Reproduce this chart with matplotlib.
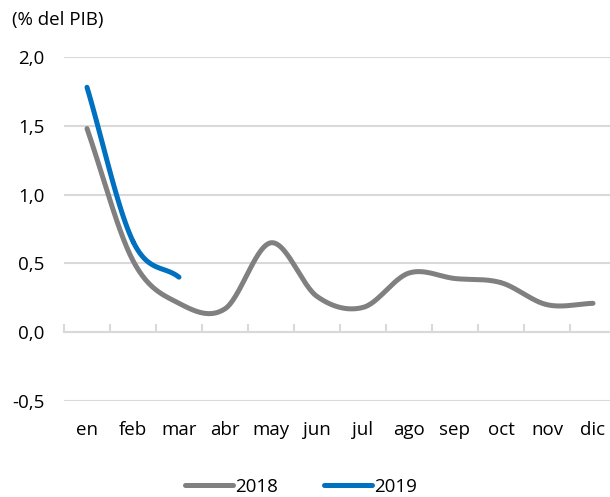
import numpy as np
import matplotlib
matplotlib.use("Agg")
import matplotlib.pyplot as plt

# -------------------------
# Data
# -------------------------
months = ["en", "feb", "mar", "abr", "may", "jun", "jul", "ago", "sep", "oct", "nov", "dic"]
y2018 = [1.48, 0.52, 0.21, 0.17, 0.65, 0.26, 0.18, 0.43, 0.39, 0.36, 0.20, 0.21]
y2019 = [1.78, 0.66, 0.40]
yticks = [-0.5, 0.0, 0.5, 1.0, 1.5, 2.0]

GRAY = "#808080"
BLUE = "#0070C0"
GRID = "#D9D9D9"
FS = 13.5

plt.rcParams["font.family"] = ["Open Sans", "DejaVu Sans"]


def smooth(vals, n=30):
    # Catmull-Rom style smoothing, like Excel's "smoothed line"
    y = np.asarray(vals, float)
    x = np.arange(len(y), dtype=float)
    px = np.concatenate([[2 * x[0] - x[1]], x, [2 * x[-1] - x[-2]]])
    py = np.concatenate([[2 * y[0] - y[1]], y, [2 * y[-1] - y[-2]]])
    xs, ys = [], []
    t = np.linspace(0, 1, n)
    for i in range(1, len(px) - 2):
        for arr, out in ((px, xs), (py, ys)):
            p0, p1, p2, p3 = arr[i - 1:i + 3]
            out.append(0.5 * ((2 * p1) + (-p0 + p2) * t
                              + (2 * p0 - 5 * p1 + 4 * p2 - p3) * t ** 2
                              + (-p0 + 3 * p1 - 3 * p2 + p3) * t ** 3))
    return np.concatenate(xs), np.concatenate(ys)


fig = plt.figure(figsize=(6.10, 4.97), dpi=100)
ax = fig.add_axes([64 / 610, 96 / 497, 552 / 610, 344 / 497])

x18, s18 = smooth(y2018)
x19, s19 = smooth(y2019)
l18, = ax.plot(x18, s18, color=GRAY, lw=3.6, solid_capstyle="round", label="2018")
l19, = ax.plot(x19, s19, color=BLUE, lw=3.6, solid_capstyle="round", label="2019")

ax.set_xlim(-0.5, len(months) - 0.5)
ax.set_ylim(-0.5, 2.0)
ax.set_yticks(yticks)
ax.set_yticklabels([f"{v:.1f}".replace(".", ",") for v in yticks], fontsize=FS)
ax.yaxis.grid(True, color=GRID, lw=1.5)
ax.set_axisbelow(True)
ax.tick_params(axis="y", length=0, pad=14)

for s in ["left", "right", "top"]:
    ax.spines[s].set_visible(False)
ax.spines["bottom"].set_position(("data", 0))
ax.spines["bottom"].set_color(GRID)
ax.spines["bottom"].set_linewidth(1.5)

ax.set_xticks([])
ax.set_xticks(np.arange(-0.5, len(months), 1), minor=True)
ax.tick_params(axis="x", which="minor", direction="in", length=6, width=1.5, color=GRID)

for i, m in enumerate(months):
    ax.text(i, -0.71, m, ha="center", va="center", fontsize=FS, clip_on=False)

fig.text(12 / 610, 1 - 20 / 497, "(% del PIB)", fontsize=FS, va="center", ha="left")

fig.legend(handles=[l18, l19], loc="center", bbox_to_anchor=(301 / 610, 1 - 487 / 497),
           ncol=2, frameon=False, fontsize=FS, handlelength=2.55, handletextpad=0.1,
           columnspacing=2.5, borderpad=0)

fig.savefig("out.png", dpi=100)
